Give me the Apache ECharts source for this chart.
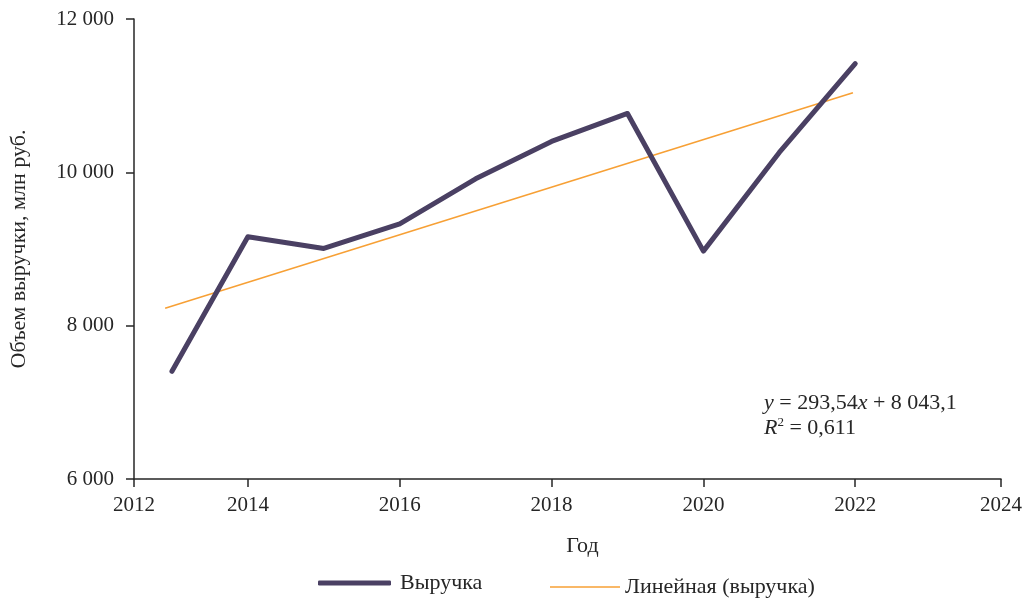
<!DOCTYPE html>
<html>
<head>
<meta charset="utf-8">
<script src="https://cdn.jsdelivr.net/npm/echarts@6/dist/echarts.min.js"></script>
<style>
  html, body { margin: 0; padding: 0; background: #fff; }
  #chart { width: 1025px; height: 601px; }
</style>
</head>
<body>
<div id="chart"></div>
<script>
// данные
var years = [2013, 2014, 2015, 2016, 2017, 2018, 2019, 2020, 2021, 2022];
var revenue = [7405, 9160, 9007, 9328, 9915, 10403, 10768, 8972, 10260, 11418];
// линия тренда (как нарисована на исходнике)
var trendX = [2012.91, 2021.97];
var trendY = [8227, 11039];
// подписи оси X
var xTickValues = [2012.5, 2014, 2016, 2018, 2020, 2022, 2023.92];
var xTickLabels = ['2012', '2014', '2016', '2018', '2020', '2022', '2024'];

var FONT = '"Liberation Serif", "DejaVu Serif", serif';
var INK = '#262626';

var chart = echarts.init(document.getElementById('chart'));

var option = {
  backgroundColor: '#fff',
  animation: false,
  textStyle: { fontFamily: FONT },
  grid: { left: 133, right: 22, top: 19, bottom: 122 },
  xAxis: {
    type: 'value',
    min: 2012.5,
    max: 2023.92,
    name: 'Год',
    nameLocation: 'middle',
    nameGap: 56,
    nameTextStyle: { fontFamily: FONT, fontSize: 22, color: INK, padding: [0, 0, 0, 30] },
    axisLine: { show: true, lineStyle: { color: INK, width: 1.5 } },
    axisTick: { show: true, length: 8, customValues: xTickValues, lineStyle: { color: INK, width: 1.5 } },
    axisLabel: {
      customValues: xTickValues,
      margin: 16,
      fontFamily: FONT,
      fontSize: 21,
      color: INK,
      formatter: function (v) {
        for (var i = 0; i < xTickValues.length; i++) {
          if (Math.abs(xTickValues[i] - v) < 0.01) return xTickLabels[i];
        }
        return '';
      }
    },
    splitLine: { show: false }
  },
  yAxis: {
    type: 'value',
    min: 6000,
    max: 12000,
    interval: 2000,
    name: 'Объем выручки, млн руб.',
    nameLocation: 'middle',
    nameGap: 104,
    nameTextStyle: { fontFamily: FONT, fontSize: 22, color: INK },
    axisLine: { show: true, lineStyle: { color: INK, width: 1.5 } },
    axisTick: { show: true, length: 8, lineStyle: { color: INK, width: 1.5 } },
    axisLabel: {
      margin: 20,
      fontFamily: FONT,
      fontSize: 21,
      color: INK,
      formatter: function (v) {
        return String(v).replace(/\B(?=(\d{3})+(?!\d))/g, ' ');
      }
    },
    splitLine: { show: false }
  },
  legend: [
    {
      data: [{ name: 'Выручка', icon: 'roundRect' }],
      left: 313,
      top: 567,
      itemWidth: 73,
      itemHeight: 5,
      itemGap: 0,
      itemStyle: { color: '#4a4063' },
      textStyle: { fontFamily: FONT, fontSize: 22, color: INK, padding: [0, 0, 0, 4] }
    },
    {
      data: [{ name: 'Линейная (выручка)', icon: 'rect' }],
      left: 545,
      top: 571,
      itemWidth: 70,
      itemHeight: 1.6,
      itemGap: 0,
      itemStyle: { color: '#f7a035' },
      textStyle: { fontFamily: FONT, fontSize: 22, color: INK, padding: [0, 0, 0, 0] }
    }
  ],
  graphic: [
    {
      type: 'text',
      left: 764,
      top: 391,
      style: {
        text: '{i|y} = 293,54{i|x} + 8 043,1\n{i|R}{s|2} = 0,611',
        font: '22px ' + FONT,
        fill: INK,
        lineHeight: 25,
        rich: {
          i: { fontFamily: FONT, fontSize: 22, fontStyle: 'italic', fill: INK },
          s: { fontFamily: FONT, fontSize: 13, fill: INK, verticalAlign: 'top', padding: [0, 0, 8, 0] }
        }
      }
    }
  ],
  series: [
    {
      name: 'Выручка',
      type: 'line',
      data: years.map(function (y, i) { return [y, revenue[i]]; }),
      showSymbol: false,
      symbol: 'none',
      color: '#4a4063',
      lineStyle: { color: '#4a4063', width: 5, cap: 'round', join: 'round' },
      z: 3
    },
    {
      name: 'Линейная (выручка)',
      type: 'line',
      data: trendX.map(function (x, i) { return [x, trendY[i]]; }),
      showSymbol: false,
      symbol: 'none',
      color: '#f7a035',
      lineStyle: { color: '#f7a035', width: 1.6 },
      z: 2
    }
  ]
};

chart.setOption(option);
</script>
</body>
</html>
